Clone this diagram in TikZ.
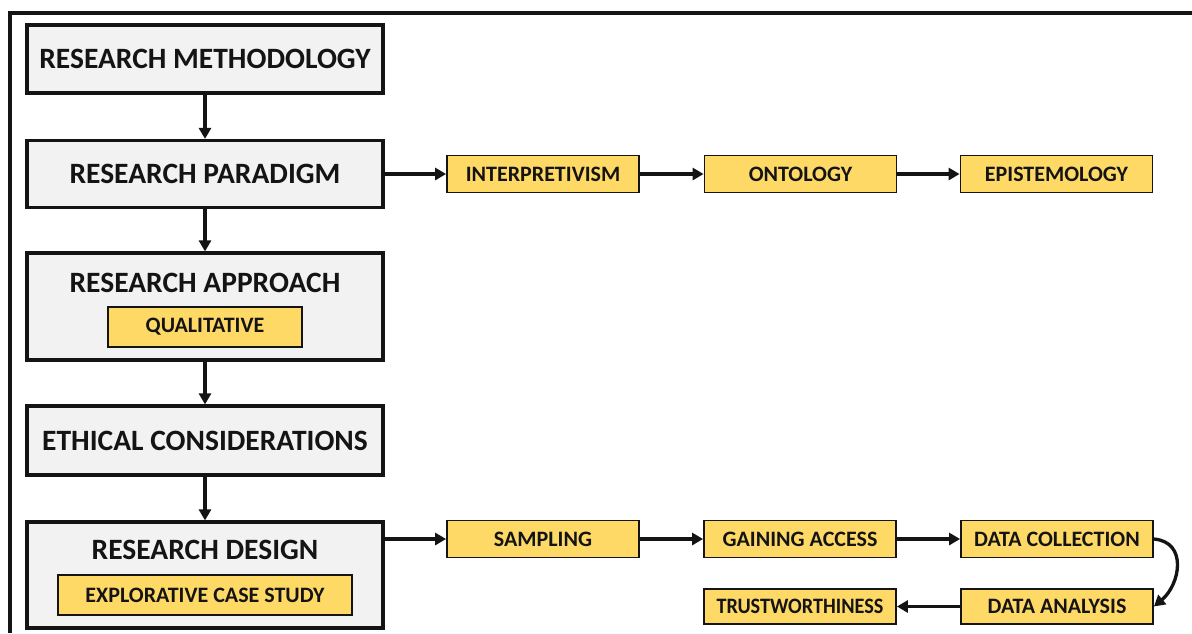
\documentclass[tikz,border=0pt]{standalone}
\usepackage{fontspec}
\setmainfont{Carlito}
\usetikzlibrary{arrows.meta}
\definecolor{boxgray}{HTML}{F2F2F2}
\definecolor{gold}{HTML}{FFD966}
\definecolor{ink}{HTML}{141414}
\begin{document}
\begin{tikzpicture}[x=1pt,y=-1pt,
  mainbox/.style={draw=ink,line width=3.2pt,fill=boxgray,minimum width=356pt,inner sep=0pt},
  maintext/.style={text=ink,font=\fontsize{29.5}{33}\selectfont\bfseries,inner sep=0pt},
  goldbox/.style={draw=ink,line width=1.8pt,fill=gold,minimum width=192pt,minimum height=37pt,inner sep=0pt,
    text=ink,font=\fontsize{22}{26}\selectfont\bfseries},
  flow/.style={draw=ink,line width=3.3pt,-{Triangle[length=11pt,width=12pt]}}
]
\useasboundingbox (0,0) rectangle (1192,633);
\fill[white] (0,0) rectangle (1192,633);
% outer frame (open at right and bottom)
\draw[line width=4pt,ink] (10,633) -- (10,13) -- (1192,13);

% main column
\node[mainbox,minimum height=68pt] (rm) at (205,59) {};
\node[maintext] (rmt) at (rm.center) {RESEARCH METHODOLOGY};
\node[mainbox,minimum height=67pt] (rp) at (205,174) {};
\node[maintext] (rpt) at (rp.center) {RESEARCH PARADIGM};
\node[mainbox,minimum height=107pt] (ra) at (205,306.5) {};
\node[maintext] (rat) at (205,283) {RESEARCH APPROACH};
\node[goldbox,minimum width=194pt,minimum height=40pt] (qual) at (205,327) {QUALITATIVE};
\node[mainbox,minimum height=69pt] (ec) at (205,440.5) {};
\node[maintext] (ect) at (ec.center) {ETHICAL CONSIDERATIONS};
\node[mainbox,minimum height=106pt] (rd) at (205,575) {};
\node[maintext] (rdt) at (205,550) {RESEARCH DESIGN};
\node[goldbox,minimum width=294pt,minimum height=40pt] (ecs) at (205,595) {EXPLORATIVE CASE STUDY};

% paradigm row
\node[goldbox] (interp) at (543,174) {INTERPRETIVISM};
\node[goldbox] (onto) at (800.5,174) {ONTOLOGY};
\node[goldbox] (epis) at (1056.5,174) {EPISTEMOLOGY};

% design rows
\node[goldbox] (samp) at (543,539) {SAMPLING};
\node[goldbox] (gain) at (800,539) {GAINING ACCESS};
\node[goldbox] (dcol) at (1057,539) {DATA COLLECTION};
\node[goldbox,minimum height=35pt] (dana) at (1057,606.5) {DATA ANALYSIS};
\node[goldbox,minimum height=35pt] (trust) at (800,606.5) {\scalebox{0.92}[1]{TRUSTWORTHINESS}};

% connectors
\draw[flow] (rm) -- (rp);
\draw[flow] (rp) -- (ra);
\draw[flow] (ra) -- (ec);
\draw[flow] (ec) -- (rd);
\draw[flow] (rp.east) -- (interp.west);
\draw[flow] (interp) -- (onto);
\draw[flow] (onto) -- (epis);
\draw[flow] (samp.west -| rd.east) -- (samp.west);
\draw[flow] (samp) -- (gain);
\draw[flow] (gain) -- (dcol);
\draw[flow] (dcol.east) to[out=-5,in=40,looseness=1.3] (dana.east);
\draw[flow] (dana) -- (trust);
\end{tikzpicture}
\end{document}
